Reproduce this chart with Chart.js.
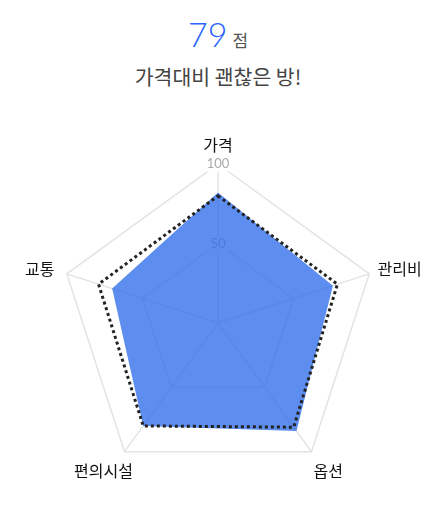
<!DOCTYPE html>
<html><head><meta charset="utf-8">
<script src="https://cdn.jsdelivr.net/npm/chart.js@4"></script>
<style>
html,body{margin:0;padding:0;background:#fff;width:445px;height:508px;overflow:hidden;font-family:"Noto Sans CJK KR","Noto Sans",sans-serif;}
#score{position:absolute;left:0;width:436px;top:13px;text-align:center;}
#score .num{font-family:Lato,"Noto Sans",sans-serif;font-weight:300;font-size:34px;color:#2962ff;}
#score .unit{font-size:17px;color:#555;margin-left:5px;}
#sub{position:absolute;left:0;width:436px;top:61px;text-align:center;font-size:20.5px;color:#444;}
#wrap{position:absolute;left:0;top:112px;width:445px;height:396px;}
</style></head>
<body>
<div id="score"><span class="num">79</span><span class="unit">점</span></div>
<div id="sub">가격대비 괜찮은 방!</div>
<div id="wrap"><canvas id="c"></canvas></div>
<script>
const categories = ["가격", "관리비", "옵션", "편의시설", "교통"];
const roomScores = [82, 76, 84, 80, 70];
const averageScores = [80, 79, 81, 80, 79];
const tickStep = 50;

const outerLabels = {
  id: 'outerLabels',
  afterDatasetsDraw(chart) {
    const s = chart.scales.r;
    const ctx = chart.ctx;
    const dist = s.drawingArea + 21;
    ctx.save();
    ctx.font = '16px "Noto Sans CJK KR", sans-serif';
    ctx.fillStyle = '#111';
    ctx.textAlign = 'center';
    ctx.textBaseline = 'middle';
    chart.data.labels.forEach((lab, i) => {
      const p = s.getPointPosition(i, dist);
      const w = ctx.measureText(lab).width;
      const sinA = (p.x - s.xCenter) / dist;
      ctx.fillText(lab, p.x + 0.25 * w * sinA, p.y + 2);
    });
    ctx.restore();
  }
};

new Chart(document.getElementById('c'), {
  type: 'radar',
  data: {
    labels: categories,
    datasets: [
      {
        label: '평균',
        data: averageScores,
        fill: false,
        borderColor: '#222',
        borderWidth: 3,
        borderDash: [3, 3],
        pointRadius: 0,
        tension: 0
      },
      {
        label: '이 방',
        data: roomScores,
        fill: true,
        backgroundColor: 'rgba(48,110,235,0.78)',
        borderWidth: 0,
        borderColor: 'rgba(0,0,0,0)',
        pointRadius: 0
      }
    ]
  },
  plugins: [outerLabels],
  options: {
    responsive: true,
    maintainAspectRatio: false,
    animation: false,
    plugins: { legend: { display: false }, tooltip: { enabled: false } },
    layout: { padding: { left: 51, right: 60, top: 44, bottom: 18 } },
    scales: {
      r: {
        min: 0,
        max: 100,
        ticks: {
          stepSize: tickStep,
          color: '#aaa',
          font: { size: 13, family: 'Lato, "Noto Sans", sans-serif' },
          backdropColor: 'rgba(255,255,255,1)',
          backdropPadding: 1
        },
        grid: { color: '#e3e3e3', lineWidth: 1.5 },
        angleLines: { color: '#e3e3e3', lineWidth: 1.5 },
        pointLabels: { display: false }
      }
    }
  }
});
</script>
</body></html>
